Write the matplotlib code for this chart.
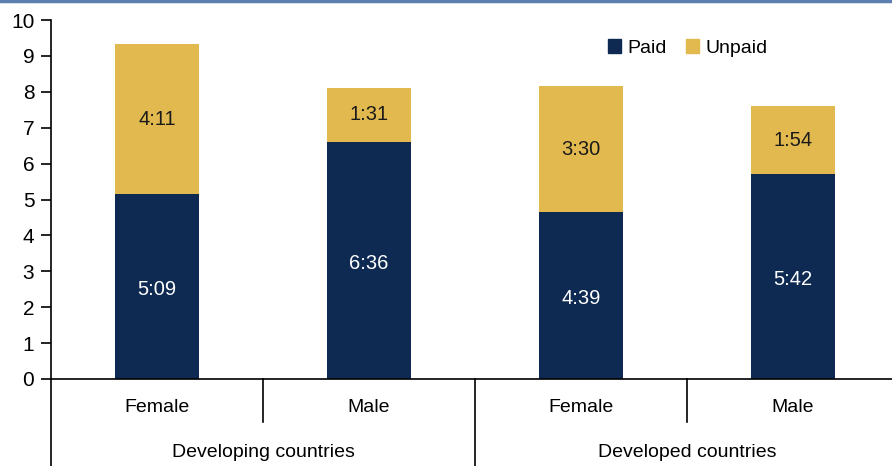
import matplotlib.pyplot as plt
from matplotlib.patches import Patch

plt.rcParams["font.family"] = ["Liberation Sans Narrow", "Liberation Sans", "DejaVu Sans"]

categories = ["Female", "Male", "Female", "Male"]
groups = ["Developing countries", "Developed countries"]
paid = [5 + 9 / 60, 6 + 36 / 60, 4 + 39 / 60, 5 + 42 / 60]
unpaid = [4 + 11 / 60, 1 + 31 / 60, 3 + 30 / 60, 1 + 54 / 60]
paid_labels = ["5:09", "6:36", "4:39", "5:42"]
unpaid_labels = ["4:11", "1:31", "3:30", "1:54"]

PAID_COLOR = "#0e2a52"
UNPAID_COLOR = "#e1b94e"
FONT_SIZE = 14

fig = plt.figure(figsize=(8.92, 4.66), dpi=100)
W, H = 892, 466
ax = fig.add_axes([51 / W, 1 - 379 / H, (892 - 51) / W, (379 - 20) / H])

x = list(range(len(categories)))
ax.bar(x, paid, width=0.40, color=PAID_COLOR, label="Paid")
ax.bar(x, unpaid, width=0.40, bottom=paid, color=UNPAID_COLOR, label="Unpaid")

for i in x:
    ax.text(i, paid[i] / 2 - 0.08, paid_labels[i], ha="center", va="center",
            color="white", fontsize=FONT_SIZE + 0.5)
    ax.text(i, paid[i] + unpaid[i] / 2, unpaid_labels[i], ha="center",
            va="center", color="#1a1a1a", fontsize=FONT_SIZE + 0.5)

ax.set_xlim(-0.5, 3.5 - 7 / 212)
ax.set_ylim(0, 10)
ax.set_yticks(range(0, 11))
ax.tick_params(axis="y", direction="out", length=7, width=1.2,
               labelsize=FONT_SIZE + 1, pad=5)
ax.set_xticks([])
for side in ("top", "right"):
    ax.spines[side].set_visible(False)
ax.spines["left"].set_linewidth(1.2)
ax.spines["bottom"].set_linewidth(1.2)

# category labels and separators below the axis
trans = ax.get_xaxis_transform()
for i, name in enumerate(categories):
    ax.text(i, -0.08, name, transform=trans, ha="center", va="center",
            fontsize=FONT_SIZE, clip_on=False)
for i, name in enumerate(groups):
    ax.text(2 * i + 0.5, -0.205, name, transform=trans, ha="center",
            va="center", fontsize=FONT_SIZE, clip_on=False)
for xs, y0 in [(-0.5, -0.245), (0.5, -0.12), (1.5, -0.245), (2.5, -0.12)]:
    ax.plot([xs, xs], [0, y0], transform=trans, color="black", lw=1.2,
            clip_on=False)

handles = [Patch(color=PAID_COLOR, label="Paid"),
           Patch(color=UNPAID_COLOR, label="Unpaid")]
ax.legend(handles=handles, loc="upper left", bbox_to_anchor=(0.641, 0.995),
          ncol=2, frameon=False, fontsize=FONT_SIZE, handlelength=0.7,
          handleheight=0.7, handletextpad=0.3, columnspacing=1.0)

# thin top border line
fig.add_artist(plt.Line2D([0, 1], [1 - 1 / H, 1 - 1 / H], color="#5b7fae",
                          lw=2.5, transform=fig.transFigure))

fig.savefig("out.png", dpi=100)
